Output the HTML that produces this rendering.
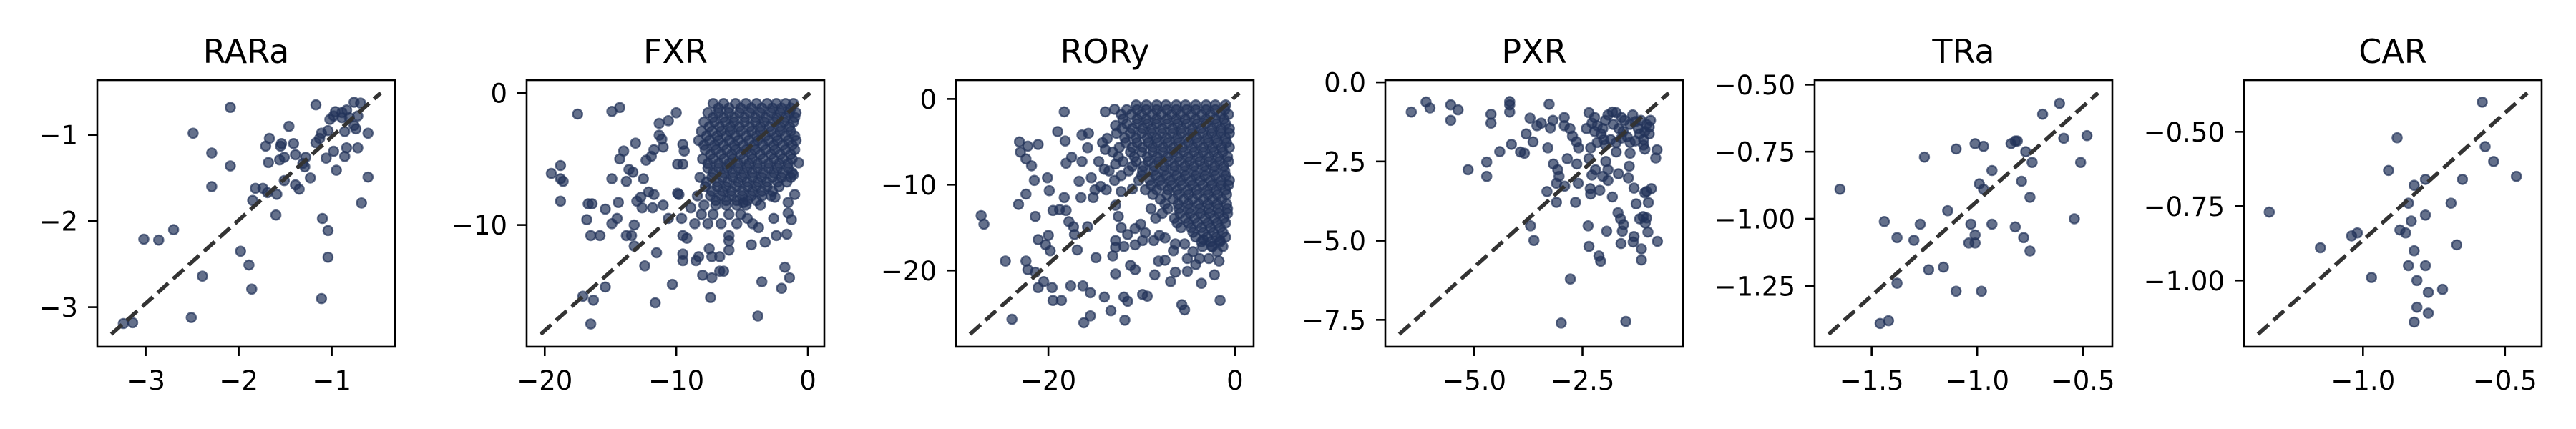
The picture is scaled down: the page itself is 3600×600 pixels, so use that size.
<!DOCTYPE html>
<html><head><meta charset="utf-8"><style>
html,body{margin:0;padding:0;background:#fff;}
svg{display:block;font-family:"DejaVu Sans","Liberation Sans",sans-serif;}
</style></head><body>
<svg id="chart" width="3600" height="600" viewBox="0 0 3600 600" xmlns="http://www.w3.org/2000/svg"></svg>
<script>
const titles = ["RARa","FXR","RORy","PXR","TRa","CAR"];
const xDomains = [[-3.52,-0.32],[-21.375,1.25],[-29.9,2.0],[-7.05,-0.18],[-1.77,-0.36],[-1.419,-0.371]];
const yDomains = [[-3.46,-0.363],[-19.23,0.975],[-28.9,2.2],[-8.35,0.07],[-1.477,-0.483],[-1.223,-0.326]];
const xTicks = [[-3,-2,-1],[-20,-10,0],[-20,0],[-5,-2.5],[-1.5,-1,-0.5],[-1,-0.5]];
const xTickLabels = [["−3","−2","−1"],["−20","−10","0"],["−20","0"],["−5.0","−2.5"],["−1.5","−1.0","−0.5"],["−1.0","−0.5"]];
const yTicks = [[-3,-2,-1],[-10,0],[-20,-10,0],[-7.5,-5,-2.5,0],[-1.25,-1,-0.75,-0.5],[-1,-0.75,-0.5]];
const yTickLabels = [["−3","−2","−1"],["−10","0"],["−20","−10","0"],["−7.5","−5.0","−2.5","0.0"],["−1.25","−1.00","−0.75","−0.50"],["−1.00","−0.75","−0.50"]];

const rarPts = [[-2.09,-0.68],[-1.17,-0.65],[-2.49,-0.98],[-2.29,-1.21],[-2.09,-1.36],[-2.29,-1.60],[-1.46,-0.90],[-1.67,-1.04],[-1.71,-1.13],[-1.54,-1.10],[-1.41,-1.10],[-1.55,-1.13],[-1.39,-1.23],[-1.51,-1.26],[-1.56,-1.29],[-1.68,-1.32],[-1.28,-1.26],[-1.31,-1.33],[-1.29,-1.37],[-1.23,-1.50],[-1.51,-1.53],[-1.39,-1.58],[-1.35,-1.63],[-1.82,-1.62],[-1.74,-1.62],[-1.69,-1.67],[-1.59,-1.69],[-1.85,-1.76],[-1.60,-1.93],[-1.10,-1.97],[-1.04,-2.11],[-1.04,-2.42],[-1.11,-2.90],[-1.98,-2.35],[-1.89,-2.51],[-1.86,-2.79],[-2.39,-2.64],[-2.70,-2.10],[-3.02,-2.21],[-2.86,-2.22],[-2.51,-3.12],[-3.24,-3.19],[-3.14,-3.18],[-0.68,-1.79],[-0.61,-1.49],[-0.61,-0.98],[-0.72,-1.15],[-0.84,-1.15],[-0.98,-1.19],[-0.86,-1.25],[-1.06,-1.27],[-0.95,-1.41],[-1.17,-1.09],[-1.13,-1.04],[-1.11,-0.98],[-1.04,-0.95],[-0.86,-0.96],[-0.76,-0.89],[-0.74,-0.93],[-1.02,-0.82],[-0.98,-0.78],[-0.96,-0.73],[-0.89,-0.74],[-0.84,-0.71],[-0.76,-0.62],[-0.69,-0.63],[-0.72,-0.78],[-0.81,-0.80],[-0.89,-0.80]];

const fxrPts = [[-17.5,-1.6],[-14.9,-1.4],[-14.3,-1.1],[-10.0,-1.5],[-11.3,-2.3],[-10.6,-2.1],[-11.3,-3.2],[-11.1,-3.5],[-11.0,-4.1],[-13.1,-3.8],[-14.0,-4.4],[-14.3,-5.0],[-11.7,-4.3],[-11.9,-4.8],[-12.3,-5.1],[-13.6,-5.8],[-13.3,-6.0],[-18.8,-5.5],[-19.5,-6.1],[-18.8,-6.5],[-18.6,-6.7],[-14.9,-6.5],[-13.8,-6.7],[-12.5,-6.5],[-18.8,-8.2],[-16.7,-8.4],[-16.4,-8.4],[-15.4,-8.8],[-14.4,-8.3],[-13.0,-8.2],[-12.7,-7.9],[-12.1,-7.5],[-11.7,-7.7],[-12.6,-8.7],[-11.8,-8.7],[-11.0,-8.5],[-16.8,-9.6],[-14.9,-9.9],[-14.5,-9.5],[-13.2,-10.0],[-13.8,-10.8],[-13.4,-10.8],[-16.5,-10.8],[-15.8,-10.8],[-13.2,-11.6],[-11.5,-12.1],[-12.4,-13.1],[-15.4,-14.7],[-17.1,-15.4],[-16.3,-15.7],[-16.5,-17.5],[-11.6,-15.9],[-10.3,-14.5],[-9.5,-12.2],[-9.5,-12.7],[-8.5,-12.7],[-8.3,-12.4],[-8.0,-13.8],[-7.3,-14.0],[-7.4,-15.5],[-6.7,-13.5],[-6.4,-13.5],[-7.5,-11.8],[-7.3,-12.4],[-6.7,-12.4],[-6.0,-11.9],[-6.0,-10.8],[-6.0,-11.2],[-9.5,-10.8],[-9.2,-11.0],[-9.6,-9.5],[-10.6,-9.5],[-3.8,-16.9],[-3.5,-14.3],[-2.0,-14.8],[-1.75,-13.2],[-1.4,-14.0],[-4.3,-11.5],[-3.25,-11.3],[-2.4,-10.8],[-1.6,-10.7],[-1.25,-9.6],[-1.5,-9.1],[-2.6,-9.5],[-3.75,-10.2],[-4.6,-9.5],[-4.9,-8.3],[-2.5,-7.9],[-1.5,-8.3],[-1.0,-7.7],[-1.1,-6.2],[-0.7,-5.3],[-9.5,-3.9],[-9.4,-4.4],[-9.9,-5.4],[-9.5,-5.4],[-9.9,-7.6],[-9.8,-7.7],[-8.9,-8.7]];
const fxrDenseRows = [
 [-0.8,[-7.2,-6.4,-5.5,-4.7,-3.9,-3.1,-2.4,-1.7,-1.1]],
 [-1.15,[-6.8,-6.0,-5.1,-4.3,-3.5,-2.7,-2.0,-1.3]],
 [-1.5,[-7.6,-6.8,-6.0,-5.2,-4.4,-3.6,-2.8,-2.1,-1.4,-0.9]],
 [-1.85,[-7.2,-6.4,-5.6,-4.8,-4.0,-3.2,-2.4,-1.7,-1.0]],
 [-2.2,[-7.9,-7.1,-6.3,-5.6,-4.8,-4.0,-3.3,-2.5,-1.8,-1.1]],
 [-2.55,[-7.5,-6.7,-5.9,-5.2,-4.4,-3.6,-2.9,-2.1,-1.4]],
 [-2.9,[-8.1,-7.3,-6.6,-5.9,-5.1,-4.3,-3.6,-2.8,-2.1,-1.3]],
 [-3.25,[-7.7,-6.9,-6.2,-5.5,-4.7,-3.9,-3.2,-2.4,-1.7,-1.0]],
 [-3.6,[-8.3,-7.5,-6.8,-6.0,-5.3,-4.5,-3.8,-3.0,-2.3,-1.5,-0.9]],
 [-3.95,[-7.9,-7.1,-6.4,-5.6,-4.9,-4.1,-3.4,-2.6,-1.9,-1.2]],
 [-4.3,[-7.8,-7.0,-6.2,-5.5,-4.7,-4.0,-3.2,-2.5,-1.7,-1.0]],
 [-4.65,[-7.4,-6.6,-5.8,-5.1,-4.3,-3.6,-2.8,-2.1,-1.3]],
 [-5.0,[-8.0,-7.2,-6.4,-5.7,-4.9,-4.2,-3.4,-2.6,-1.9,-1.2]],
 [-5.35,[-7.6,-6.8,-6.0,-5.3,-4.5,-3.8,-3.0,-2.2,-1.5]],
 [-5.7,[-7.6,-6.8,-6.1,-5.3,-4.6,-3.8,-3.0,-2.3,-1.5]],
 [-6.05,[-7.2,-6.4,-5.7,-4.9,-4.2,-3.4,-2.6,-1.9,-1.2]],
 [-6.4,[-8.2,-7.3,-6.5,-5.7,-5.0,-4.2,-3.5,-2.7,-2.0,-1.3]],
 [-6.75,[-7.7,-6.9,-6.1,-5.3,-4.6,-3.8,-3.1,-2.3,-1.6]],
 [-7.1,[-7.8,-6.9,-6.2,-5.4,-4.6,-3.9,-3.1,-2.2]],
 [-7.45,[-7.3,-6.5,-5.8,-5.0,-4.2,-3.5,-2.7]],
 [-7.8,[-8.4,-7.4,-6.6,-5.8,-5.0,-4.3,-3.5,-2.8]],
 [-8.15,[-7.0,-6.2,-5.4,-4.6,-3.9]],
 [-8.5,[-7.9,-7.0,-6.2,-5.4,-4.7,-3.6]],
 [-9.2,[-8.1,-7.2,-6.0,-5.1]],
 [-9.9,[-8.6,-7.6,-6.6,-5.4,-4.2]]
];

const roryPts = [[-18.3,-1.5],[-19.0,-3.8],[-18.2,-4.9],[-23.1,-5.0],[-22.2,-5.5],[-21.1,-5.3],[-23.0,-6.2],[-22.4,-7.0],[-21.8,-7.8],[-21.5,-9.5],[-20.1,-9.2],[-22.4,-11.1],[-23.2,-12.3],[-27.2,-13.6],[-26.9,-14.6],[-21.4,-13.7],[-19.9,-10.7],[-18.3,-11.5],[-19.5,-13.0],[-18.8,-12.9],[-18.1,-13.0],[-21.1,-16.4],[-20.0,-15.9],[-20.3,-17.0],[-19.8,-17.7],[-24.6,-18.9],[-22.4,-18.9],[-22.2,-19.9],[-21.4,-20.2],[-20.5,-21.3],[-21.1,-22.0],[-19.6,-22.0],[-19.5,-23.5],[-18.6,-23.5],[-23.9,-25.7],[-17.6,-21.8],[-16.3,-21.8],[-15.5,-22.6],[-16.2,-26.1],[-15.5,-25.3],[-13.3,-24.7],[-11.8,-25.8],[-14.0,-23.1],[-11.9,-23.1],[-11.5,-23.6],[-9.9,-22.8],[-9.4,-23.0],[-8.6,-20.5],[-5.7,-24.0],[-5.4,-24.6],[-1.6,-23.5],[-6.9,-21.3],[-6.4,-20.2],[-5.1,-20.1],[-3.6,-21.5],[-2.2,-20.5],[-1.7,-18.9],[-2.8,-18.6],[-3.8,-18.6],[-8.2,-18.9],[-7.5,-18.8],[-13.1,-18.3],[-14.9,-18.5],[-16.9,-17.6],[-17.2,-15.8],[-15.8,-14.9],[-17.8,-14.3],[-17.3,-14.9],[-16.5,-11.5],[-15.2,-11.5],[-16.7,-9.6],[-15.4,-9.2],[-14.4,-10.2],[-18.1,-7.5],[-17.5,-6.8],[-16.4,-7.3],[-15.8,-5.7],[-16.4,-4.2],[-15.7,-4.0],[-13.9,-1.5],[-12.9,-1.2],[-12.8,-3.1],[-13.7,-4.6],[-13.9,-5.9],[-12.8,-7.6],[-14.0,-8.2],[-12.9,-9.5],[-12.2,-10.8],[-11.0,-10.5],[-12.8,-12.4],[-12.5,-13.7],[-12.2,-15.0],[-11.5,-15.8],[-10.7,-15.1],[-10.1,-14.6],[-12.8,-16.5],[-11.9,-17.2],[-10.7,-17.0],[-12.8,-17.3],[-11.2,-19.4],[-10.7,-19.9],[-12.8,-20.4],[-9.9,-16.5],[-8.7,-16.5],[-9.6,-15.6],[-8.1,-15.9],[-7.5,-16.2],[-6.4,-16.9],[-6.6,-17.7],[-5.4,-16.9],[-4.5,-17.8],[-5.1,-18.6],[-4.2,-19.3],[-3.4,-16.4],[-2.5,-17.2],[-1.9,-17.8],[-1.6,-16.5]];
const roryDenseRows = [
 [-0.7,[-10.6,-9.5,-8.4,-7.4,-6.3,-5.3,-4.2,-3.1,-2.1,-1.0]],
 [-1.25,[-11.6,-10.5,-9.5,-8.4,-7.3,-6.3,-5.2,-4.2,-3.1,-2.1,-1.1]],
 [-1.8,[-12.2,-11.1,-10.0,-8.9,-7.9,-6.8,-5.8,-4.7,-3.6,-2.6,-1.5,-0.7]],
 [-2.35,[-12.0,-10.5,-9.5,-8.4,-7.3,-6.3,-5.3,-4.2,-3.1,-2.1,-1.2]],
 [-2.9,[-11.6,-10.5,-9.4,-8.4,-7.3,-6.2,-5.2,-4.1,-3.1,-2.0,-1.0]],
 [-3.45,[-12.1,-11.0,-9.9,-8.9,-7.8,-6.7,-5.7,-4.6,-3.6,-2.5,-1.5,-0.6]],
 [-4.0,[-12.7,-11.2,-10.0,-8.9,-7.8,-6.7,-5.7,-4.6,-3.5,-2.5,-1.5,-0.6]],
 [-4.55,[-11.8,-10.6,-9.4,-8.4,-7.3,-6.2,-5.1,-4.1,-3.0,-2.0,-1.0]],
 [-5.1,[-14.2,-11.7,-10.5,-9.3,-8.3,-7.2,-6.1,-5.0,-4.0,-2.9,-1.9,-0.9]],
 [-5.65,[-12.4,-11.0,-9.9,-8.8,-7.7,-6.6,-5.6,-4.5,-3.4,-2.4,-1.4,-0.6]],
 [-6.2,[-13.1,-11.2,-10.0,-8.8,-7.7,-6.6,-5.5,-4.4,-3.4,-2.3,-1.3]],
 [-6.75,[-12.5,-10.8,-9.4,-8.3,-7.2,-6.1,-5.0,-3.9,-2.8,-1.8,-0.8]],
 [-7.3,[-14.6,-12.0,-10.6,-9.3,-8.2,-7.1,-6.0,-4.9,-3.8,-2.8,-1.7,-0.7]],
 [-7.85,[-11.0,-9.8,-8.7,-7.6,-6.5,-5.4,-4.4,-3.3,-2.2,-1.2]],
 [-8.4,[-13.5,-11.4,-9.9,-8.7,-7.6,-6.5,-5.4,-4.3,-3.2,-2.2,-1.1]],
 [-8.95,[-12.2,-10.0,-8.5,-7.4,-6.3,-5.3,-4.2,-3.2,-2.1,-1.0]],
 [-9.5,[-10.3,-9.1,-8.0,-6.9,-5.8,-4.7,-3.7,-2.6,-1.5,-0.6]],
 [-10.05,[-9.0,-7.9,-6.8,-5.7,-4.6,-3.5,-2.5,-1.5,-0.7]],
 [-10.6,[-15.0,-13.8,-9.6,-8.4,-7.2,-6.2,-5.1,-4.1,-3.0,-2.0,-1.0]],
 [-11.15,[-8.8,-7.3,-6.1,-5.0,-4.0,-2.9,-1.9,-0.9]],
 [-11.7,[-8.0,-6.6,-5.5,-4.5,-3.4,-2.4,-1.4]],
 [-12.25,[-7.5,-6.1,-5.0,-3.9,-2.9,-1.9,-0.9]],
 [-12.8,[-9.0,-7.2,-6.0,-4.9,-3.8,-2.8,-1.8,-0.8]],
 [-13.35,[-7.8,-5.9,-4.8,-3.7,-2.7,-1.7,-0.8]],
 [-13.9,[-8.5,-6.5,-5.3,-4.3,-3.2,-2.2,-1.2]],
 [-14.45,[-6.2,-5.0,-4.0,-2.9,-1.9,-1.0]],
 [-15.0,[-5.8,-4.7,-3.6,-2.6,-1.6]],
 [-15.55,[-4.5,-3.4,-2.3,-1.3]],
 [-16.1,[-4.2,-3.0,-2.0,-1.0]],
 [-16.65,[-3.6,-2.6,-1.6]],
 [-17.2,[-3.5,-2.4,-1.3]]
];

const pxrPts = [[-6.45,-0.94],[-6.11,-0.62],[-6.02,-0.81],[-5.54,-0.71],[-5.37,-0.87],[-5.54,-1.20],[-4.61,-1.01],[-4.61,-1.29],[-4.18,-0.61],[-4.18,-0.71],[-4.18,-0.94],[-3.27,-0.69],[-5.14,-2.76],[-4.71,-2.52],[-4.71,-2.97],[-4.41,-2.19],[-4.14,-1.96],[-3.93,-2.20],[-3.84,-2.24],[-3.80,-1.63],[-3.71,-1.13],[-3.64,-1.88],[-3.55,-1.37],[-3.45,-1.29],[-3.24,-1.44],[-3.18,-1.20],[-3.30,-2.07],[-2.92,-1.11],[-2.92,-1.37],[-2.79,-1.46],[-2.73,-1.70],[-2.64,-1.88],[-2.59,-2.07],[-2.85,-2.41],[-3.17,-2.58],[-3.07,-2.76],[-3.04,-2.97],[-2.63,-2.58],[-2.35,-2.41],[-2.31,-2.07],[-2.20,-2.76],[-1.96,-2.50],[-1.72,-2.20],[-1.40,-2.24],[-1.42,-2.65],[-1.67,-2.89],[-1.91,-2.76],[-2.03,-2.97],[-1.91,-3.10],[-2.28,-2.93],[-2.32,-3.36],[-2.60,-3.19],[-2.91,-3.28],[-3.10,-3.19],[-3.32,-3.45],[-3.10,-3.79],[-2.66,-3.79],[-2.31,-3.53],[-2.10,-3.41],[-1.81,-3.62],[-1.44,-3.02],[-1.31,-3.34],[-1.06,-3.49],[-0.91,-3.36],[-0.98,-3.80],[-1.26,-3.84],[-1.68,-4.12],[-1.62,-4.31],[-1.55,-4.49],[-1.94,-4.70],[-1.58,-4.70],[-1.31,-4.87],[-1.61,-5.09],[-1.33,-5.04],[-1.14,-5.26],[-1.14,-5.61],[-1.18,-4.31],[-1.10,-4.24],[-1.05,-4.44],[-0.99,-4.73],[-0.77,-5.02],[-1.02,-4.28],[-2.37,-4.53],[-2.35,-5.18],[-2.12,-5.48],[-2.08,-5.65],[-2.78,-6.21],[-2.99,-7.60],[-1.50,-7.55],[-3.70,-4.53],[-3.62,-4.99],[-1.02,-3.45],[-0.78,-2.13],[-0.81,-2.39],[-2.35,-0.96],[-2.22,-1.11],[-2.28,-1.29],[-2.16,-1.37],[-2.03,-1.46],[-1.97,-1.20],[-1.91,-1.03],[-1.81,-0.94],[-1.72,-0.96],[-1.60,-1.11],[-1.79,-1.33],[-1.66,-1.46],[-1.56,-1.55],[-1.47,-1.72],[-1.60,-1.76],[-1.85,-1.81],[-2.01,-1.81],[-2.07,-1.63],[-2.22,-1.55],[-2.41,-1.46],[-2.16,-1.90],[-1.97,-1.98],[-1.72,-1.90],[-1.40,-1.33],[-1.28,-1.24],[-1.15,-1.20],[-1.21,-1.46],[-1.06,-1.55],[-1.02,-1.33],[-0.96,-1.63],[-1.09,-1.81],[-1.09,-1.98],[-1.06,-2.11],[-1.28,-1.85],[-1.40,-1.90],[-1.34,-1.03],[-1.53,-1.20],[-0.96,-1.41],[-0.93,-1.20],[-1.18,-1.63]];

const traPts = [[-1.65,-0.89],[-0.61,-0.57],[-0.69,-0.61],[-0.59,-0.70],[-0.48,-0.69],[-0.51,-0.79],[-0.54,-1.00],[-0.84,-0.72],[-0.81,-0.71],[-0.82,-0.71],[-0.77,-0.75],[-0.74,-0.79],[-1.01,-0.72],[-0.97,-0.73],[-1.10,-0.74],[-1.25,-0.77],[-0.93,-0.82],[-0.79,-0.86],[-0.99,-0.87],[-0.97,-0.89],[-0.75,-0.92],[-1.14,-0.97],[-1.44,-1.01],[-1.27,-1.02],[-1.38,-1.07],[-1.30,-1.08],[-1.03,-1.02],[-0.93,-1.02],[-0.82,-1.03],[-0.78,-1.07],[-1.01,-1.06],[-1.04,-1.09],[-1.01,-1.09],[-0.75,-1.12],[-1.23,-1.19],[-1.16,-1.18],[-1.38,-1.24],[-1.10,-1.27],[-0.98,-1.27],[-1.46,-1.39],[-1.42,-1.38]];

const carPts = [[-1.33,-0.77],[-0.58,-0.40],[-0.88,-0.52],[-0.57,-0.55],[-0.54,-0.60],[-0.46,-0.65],[-0.65,-0.66],[-0.91,-0.63],[-0.78,-0.66],[-0.82,-0.68],[-0.84,-0.74],[-0.69,-0.74],[-0.78,-0.78],[-0.83,-0.80],[-0.87,-0.83],[-0.85,-0.84],[-1.02,-0.84],[-1.04,-0.85],[-1.15,-0.89],[-0.67,-0.88],[-0.82,-0.90],[-0.84,-0.95],[-0.78,-0.95],[-0.97,-0.99],[-0.81,-1.00],[-0.77,-1.04],[-0.72,-1.03],[-0.81,-1.09],[-0.77,-1.11],[-0.82,-1.14]];

function expand(rows){ const out=[]; rows.forEach(r=>r[1].forEach(x=>out.push([x,r[0]]))); return out; }
const panelPts = [rarPts, fxrPts.concat(expand(fxrDenseRows)), roryPts.concat(expand(roryDenseRows)), pxrPts, traPts, carPts];

const NS = "http://www.w3.org/2000/svg";
const svg = document.getElementById("chart");
function mk(tag, attrs, parent){ const e=document.createElementNS(NS,tag); for(const k in attrs) e.setAttribute(k,attrs[k]); (parent||svg).appendChild(e); return e; }

const TOP=112, BOT=485, W=416;
titles.forEach((t,i)=>{
  const L = 136 + 600*i;
  const xd = xDomains[i], yd = yDomains[i];
  const sx = v => L + (v - xd[0])/(xd[1]-xd[0])*W;
  const sy = v => BOT - (v - yd[0])/(yd[1]-yd[0])*(BOT-TOP);
  const g = mk("g",{});
  
  

  const title = mk("text",{x:L+W/2,y:88,"text-anchor":"middle","font-size":46,fill:"#000"},g);
  title.textContent = t;
  
  

  const pg = mk("g",{},g);
  
  
  panelPts[i].forEach(p=>{
    const c = mk("circle",{cx:sx(p[0]).toFixed(1),cy:sy(p[1]).toFixed(1),r:6.6,fill:"#22335a","fill-opacity":0.7,stroke:"#22335a","stroke-opacity":0.7,"stroke-width":2.4},pg);
    
    
  });

  const dl = mk("line",{x1:L+0.047*W,y1:BOT-0.047*(BOT-TOP),x2:L+0.952*W,y2:BOT-0.952*(BOT-TOP),stroke:"#333","stroke-width":5.5,"stroke-dasharray":"20 9"},g);
  
  

  const fr = mk("rect",{x:L,y:TOP,width:W,height:BOT-TOP,fill:"none",stroke:"#000","stroke-width":2.6},g);
  
  

  xTicks[i].forEach((v,j)=>{
    const x = sx(v);
    const tk = mk("line",{x1:x,y1:BOT,x2:x,y2:BOT+13,stroke:"#000","stroke-width":2.6},g);
    
    
    const tx = mk("text",{x:x,y:545,"text-anchor":"middle","font-size":37,fill:"#000"},g);
    tx.textContent = xTickLabels[i][j];
    
    
  });
  yTicks[i].forEach((v,j)=>{
    const y = sy(v);
    const tk = mk("line",{x1:L-13,y1:y,x2:L,y2:y,stroke:"#000","stroke-width":2.6},g);
    
    
    const tx = mk("text",{x:L-27,y:y+13.5,"text-anchor":"end","font-size":37,fill:"#000"},g);
    tx.textContent = yTickLabels[i][j];
    
    
  });
});
</script>
</body></html>
